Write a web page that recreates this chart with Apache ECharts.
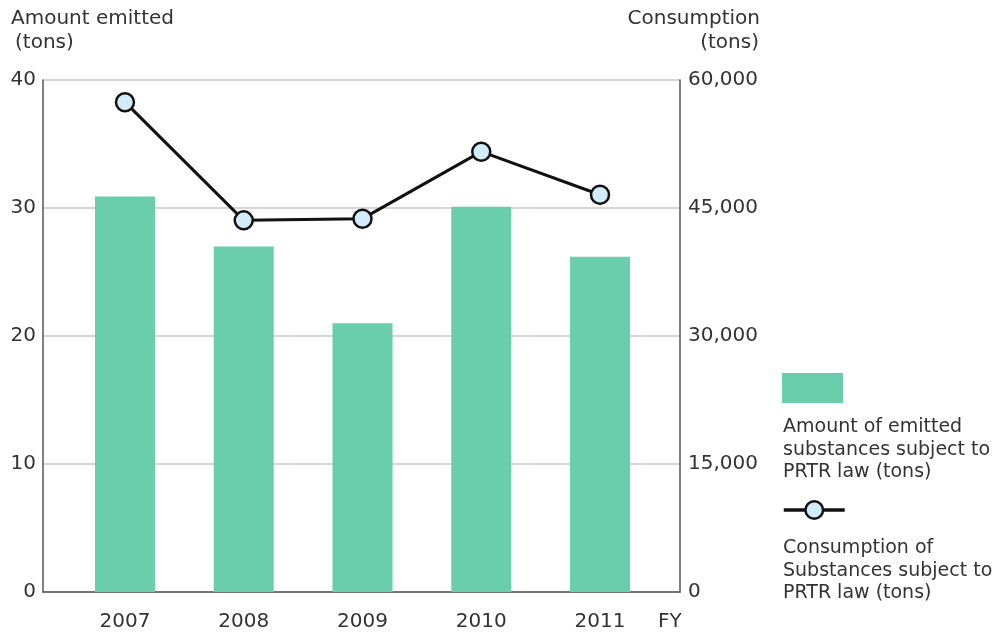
<!DOCTYPE html>
<html>
<head>
<meta charset="utf-8">
<script src="https://cdn.jsdelivr.net/npm/echarts@6/dist/echarts.min.js"></script>
<style>html,body{margin:0;padding:0;background:#fff}#c{width:1001px;height:637px}</style>
</head>
<body>
<div id="c"></div>
<script>
var categories = ['2007', '2008', '2009', '2010', '2011'];
var emitted = [30.9, 27.0, 21.0, 30.1, 26.2];
var consumption = [57400, 43550, 43750, 51600, 46550];
var leftTicks = { min: 0, max: 40, interval: 10 };
var rightTicks = { min: 0, max: 60000, interval: 15000 };
var barName = 'Amount of emitted substances subject to PRTR law (tons)';
var lineName = 'Consumption of Substances subject to PRTR law (tons)';

var FONT = '"DejaVu Sans", Verdana, sans-serif';
var TXT = '#333';
var FS = 20;
var chart = echarts.init(document.getElementById('c'), null, { renderer: 'canvas' });
chart.setOption({
  animation: false,
  backgroundColor: '#fff',
  textStyle: { fontFamily: FONT },
  grid: [
    { left: 43, right: 321, top: 80, bottom: 45 },
    { left: 65.6, right: 341.6, top: 80, bottom: 45 }
  ],
  xAxis: [
    { gridIndex: 0, type: 'value', min: 0, max: 1, axisLine: { show: true, lineStyle: { color: '#555', width: 1.5 } },
      axisTick: { show: false }, axisLabel: { show: false }, splitLine: { show: false } },
    { gridIndex: 1, type: 'category', data: categories, axisLine: { show: false }, axisTick: { show: false },
      axisLabel: { margin: 20, fontSize: FS, color: TXT, fontFamily: FONT }, splitLine: { show: false } }
  ],
  yAxis: [
    { gridIndex: 0, type: 'value', min: leftTicks.min, max: leftTicks.max, interval: leftTicks.interval, position: 'left',
      axisLine: { show: true, lineStyle: { color: '#555', width: 1.5 } }, axisTick: { show: false },
      axisLabel: { fontSize: FS, color: TXT, margin: 7, fontFamily: FONT, padding: [0, 0, 4, 0] },
      splitLine: { show: true, lineStyle: { color: '#c8c8c8', width: 1.5 } } },
    { gridIndex: 0, type: 'value', min: rightTicks.min, max: rightTicks.max, interval: rightTicks.interval, position: 'right',
      axisLine: { show: true, lineStyle: { color: '#555', width: 1.5 } }, axisTick: { show: false },
      axisLabel: { fontSize: FS, color: TXT, margin: 8, fontFamily: FONT, padding: [0, 0, 4, 0],
        formatter: function (v) { return v.toLocaleString('en-US'); } },
      splitLine: { show: false } },
    { gridIndex: 1, type: 'value', min: leftTicks.min, max: leftTicks.max, show: false, splitLine: { show: false } },
    { gridIndex: 1, type: 'value', min: rightTicks.min, max: rightTicks.max, show: false, splitLine: { show: false } }
  ],
  legend: [
    { data: [{ name: barName, icon: 'rect' }], left: 782, top: 373, itemWidth: 61, itemHeight: 30, itemGap: 0, padding: 0,
      formatter: function () { return ''; }, selectedMode: false },
    { data: [lineName], left: 782, top: 499, itemWidth: 61, itemHeight: 22, itemGap: 0, padding: 0,
      lineStyle: { width: 3.5, color: '#111' }, itemStyle: { borderWidth: 2.5, borderColor: '#111' },
      formatter: function () { return ''; }, selectedMode: false }
  ],
  series: [
    { name: barName, type: 'bar', xAxisIndex: 1, yAxisIndex: 2, data: emitted, barWidth: 60,
      itemStyle: { color: '#6acdac' } },
    { name: lineName, type: 'line', xAxisIndex: 1, yAxisIndex: 3, data: consumption,
      symbol: 'circle', symbolSize: 18, lineStyle: { color: '#111', width: 3 },
      itemStyle: { color: '#d2ecf9', borderColor: '#111', borderWidth: 2.5 } }
  ],
  graphic: [
    { type: 'text', left: 11, top: 9, style: { text: 'Amount emitted', fontSize: FS, fill: TXT, fontFamily: FONT } },
    { type: 'text', left: 15, top: 33, style: { text: '(tons)', fontSize: FS, fill: TXT, fontFamily: FONT } },
    { type: 'text', right: 241, top: 9, style: { text: 'Consumption', fontSize: FS, fill: TXT, fontFamily: FONT, align: 'right' } },
    { type: 'text', right: 242, top: 33, style: { text: '(tons)', fontSize: FS, fill: TXT, fontFamily: FONT, align: 'right' } },
    { type: 'text', left: 658, top: 612, style: { text: 'FY', fontSize: FS, fill: TXT, fontFamily: FONT } },
    { type: 'text', left: 783, top: 416, style: { text: 'Amount of emitted\nsubstances subject to\nPRTR law (tons)', fontSize: 19, lineHeight: 22.5, fill: TXT, fontFamily: FONT } },
    { type: 'text', left: 783, top: 537, style: { text: 'Consumption of\nSubstances subject to\nPRTR law (tons)', fontSize: 19, lineHeight: 22.5, fill: TXT, fontFamily: FONT } }
  ]
});
</script>
</body>
</html>
